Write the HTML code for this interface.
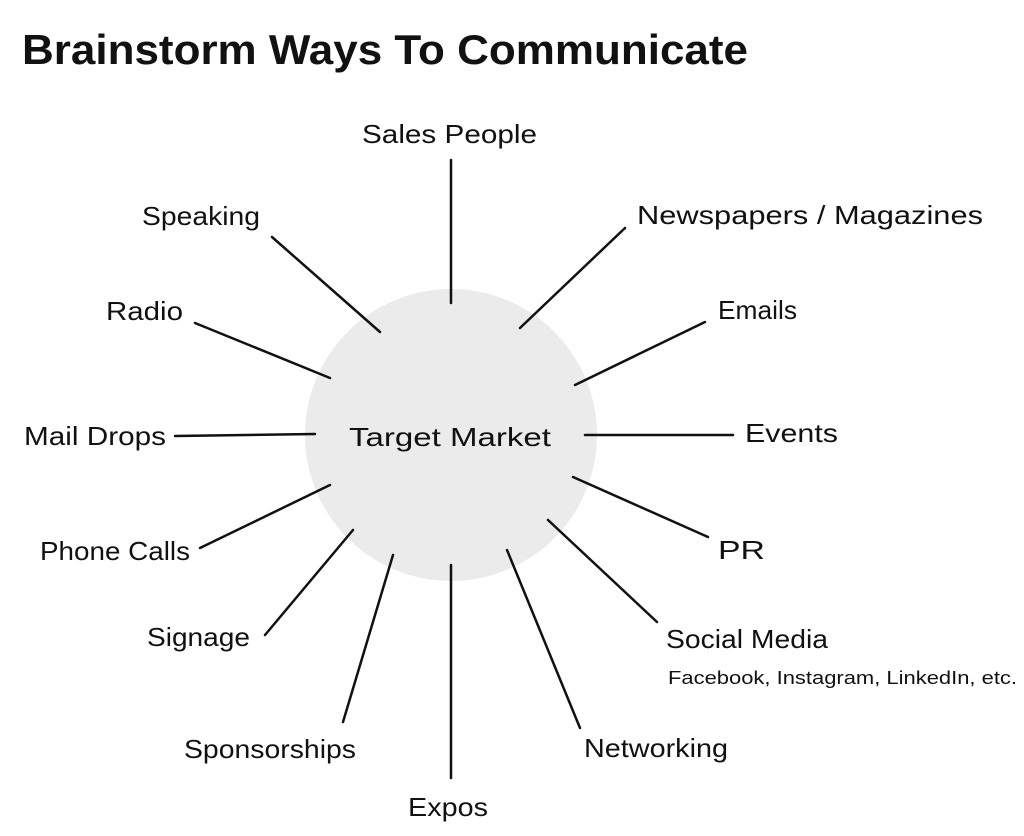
<!DOCTYPE html>
<html><head><meta charset="utf-8"><style>
html,body{margin:0;padding:0;background:#fff;}
svg{display:block}
text{font-family:"Liberation Sans",sans-serif;fill:#111;}
</style></head><body>
<svg width="1024" height="836" viewBox="0 0 1024 836" xmlns="http://www.w3.org/2000/svg">
<rect width="1024" height="836" fill="#fff"/>
<text x="22" y="64" font-size="42" font-weight="bold" textLength="726" lengthAdjust="spacingAndGlyphs">Brainstorm Ways To Communicate</text>
<circle cx="451" cy="435" r="146" fill="#ebebeb"/>
<g stroke="#111" stroke-width="2.5" stroke-linecap="round">
<line x1="451" y1="160" x2="451" y2="303"/>
<line x1="625" y1="228" x2="520" y2="328"/>
<line x1="705" y1="322" x2="575" y2="385"/>
<line x1="733" y1="435" x2="585" y2="435"/>
<line x1="708" y1="537" x2="573" y2="477"/>
<line x1="657" y1="622" x2="548" y2="520"/>
<line x1="580" y1="728" x2="507" y2="550"/>
<line x1="451" y1="778" x2="451" y2="565"/>
<line x1="343" y1="722" x2="393" y2="555"/>
<line x1="265" y1="635" x2="353" y2="530"/>
<line x1="200" y1="548" x2="330" y2="485"/>
<line x1="175" y1="436" x2="315" y2="434"/>
<line x1="195" y1="323" x2="330" y2="378"/>
<line x1="272" y1="237" x2="380" y2="332"/>
</g>
<g font-size="26" lengthAdjust="spacingAndGlyphs">
<text x="349" y="446" textLength="202" lengthAdjust="spacingAndGlyphs">Target Market</text>
<text x="362" y="143" textLength="175" lengthAdjust="spacingAndGlyphs">Sales People</text>
<text x="637" y="224" textLength="346" lengthAdjust="spacingAndGlyphs">Newspapers / Magazines</text>
<text x="718" y="319" textLength="79" lengthAdjust="spacingAndGlyphs">Emails</text>
<text x="745" y="442" textLength="93" lengthAdjust="spacingAndGlyphs">Events</text>
<text x="718" y="559" textLength="47" lengthAdjust="spacingAndGlyphs">PR</text>
<text x="666" y="648" textLength="162" lengthAdjust="spacingAndGlyphs">Social Media</text>
<text x="584" y="757" textLength="144" lengthAdjust="spacingAndGlyphs">Networking</text>
<text x="408" y="816" textLength="80" lengthAdjust="spacingAndGlyphs">Expos</text>
<text x="184" y="758" textLength="172" lengthAdjust="spacingAndGlyphs">Sponsorships</text>
<text x="147" y="646" textLength="103" lengthAdjust="spacingAndGlyphs">Signage</text>
<text x="40" y="560" textLength="150" lengthAdjust="spacingAndGlyphs">Phone Calls</text>
<text x="24" y="445" textLength="142" lengthAdjust="spacingAndGlyphs">Mail Drops</text>
<text x="106" y="320" textLength="77" lengthAdjust="spacingAndGlyphs">Radio</text>
<text x="142" y="225" textLength="118" lengthAdjust="spacingAndGlyphs">Speaking</text>
</g>
<text x="668" y="684" font-size="18" textLength="349" lengthAdjust="spacingAndGlyphs">Facebook, Instagram, LinkedIn, etc.</text>
</svg>
</body></html>
